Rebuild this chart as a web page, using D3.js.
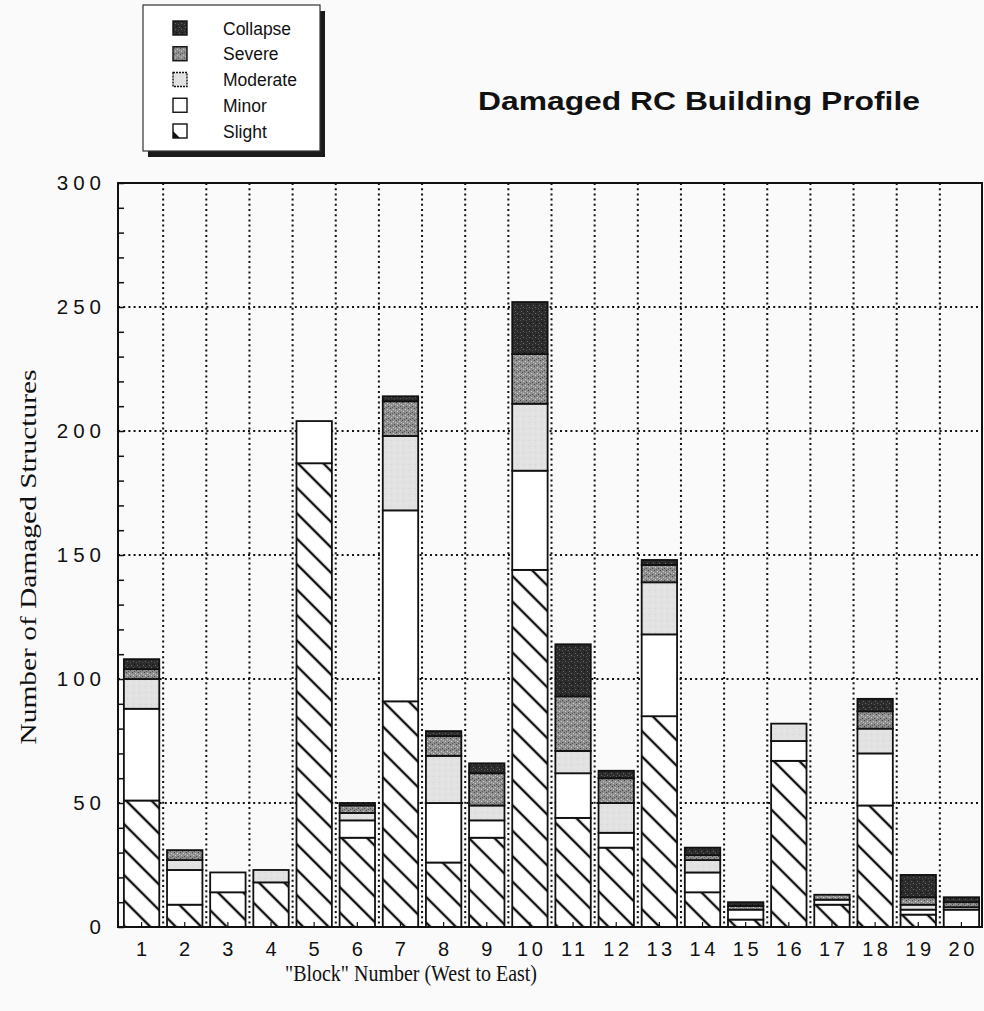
<!DOCTYPE html>
<html>
<head>
<meta charset="utf-8">
<script src="https://cdn.jsdelivr.net/npm/d3@7"></script>
<style>
    body { margin: 0; background: #fafafa; }
    svg { display: block; }
    .axis-lab { font-family: "Liberation Sans", Arial, sans-serif; font-size: 20px; letter-spacing: 3.5px; fill: #111; }
    .y .axis-lab { font-size: 20.5px; letter-spacing: 5px; }
    .axis-title { font-family: "Liberation Serif", "Times New Roman", serif; fill: #111; }
</style>
</head>
<body>
<div id="chart"></div>
<script>

// block numbers along the x axis
const blocks = ["1", "2", "3", "4", "5", "6", "7", "8", "9", "10",
    "11", "12", "13", "14", "15", "16", "17", "18", "19", "20"];

// damage levels, stacked from bottom to top
const levels = ["Slight", "Minor", "Moderate", "Severe", "Collapse"];

// number of damaged structures per block
const slight   = [51, 9, 14, 18, 187, 36, 91, 26, 36, 144, 44, 32, 85, 14, 3, 67, 9, 49, 5, 0];
const minor    = [37, 14, 8, 0, 17, 7, 77, 24, 7, 40, 18, 6, 33, 8, 4, 8, 2, 21, 2, 7];
const moderate = [12, 4, 0, 5, 0, 3, 30, 19, 6, 27, 9, 12, 21, 5, 0, 7, 0, 10, 2, 1];
const severe   = [4, 4, 0, 0, 0, 3, 14, 8, 13, 20, 22, 10, 7, 2, 1.5, 0, 2, 7, 3, 2];
const collapse = [4, 0, 0, 0, 0, 1, 2, 2, 4, 21, 21, 3, 2, 3, 1.5, 0, 0, 5, 9, 2];

const yTicks = [0, 50, 100, 150, 200, 250, 300];
const legendOrder = ["Collapse", "Severe", "Moderate", "Minor", "Slight"];


/* * * * * * * * * * * * * *
*   class StackedBarVis    *
* * * * * * * * * * * * * */

class StackedBarVis {

    constructor(parentElement, rows) {
        this.parentElement = parentElement;
        this.rows = rows;
        this.series = [];

        this.initVis()
    }

    initVis() {
        let vis = this;

        vis.width = 984;
        vis.height = 1011;
        vis.plot = {left: 118, top: 183, right: 982, bottom: 927};

        vis.svg = d3.select("#" + vis.parentElement).append("svg")
            .attr("width", vis.width)
            .attr("height", vis.height);

        vis.makePatterns();

        // -- The Scales
        vis.x = d3.scaleBand()
            .domain(blocks)
            .range([120, 983])
            .paddingInner(0.18)
            .paddingOuter(0.09);

        vis.y = d3.scaleLinear()
            .domain([0, 300])
            .range([vis.plot.bottom, vis.plot.top]);

        // dotted grid, under the bars
        let grid = vis.svg.append("g").attr("class", "grid")
            .attr("stroke", "#111")
            .attr("stroke-width", 2)
            .attr("stroke-dasharray", "2,3.2");

        grid.selectAll(".hgrid")
            .data(yTicks.filter(d => d > 0 && d < 300))
            .enter().append("line")
            .attr("class", "hgrid")
            .attr("x1", vis.plot.left).attr("x2", vis.plot.right)
            .attr("y1", d => vis.y(d)).attr("y2", d => vis.y(d));

        let step = vis.x.step();
        grid.selectAll(".vgrid")
            .data(blocks.slice(1))
            .enter().append("line")
            .attr("class", "vgrid")
            .attr("x1", d => vis.x(d) - (step - vis.x.bandwidth()) / 2)
            .attr("x2", d => vis.x(d) - (step - vis.x.bandwidth()) / 2)
            .attr("y1", vis.plot.top).attr("y2", vis.plot.bottom);

        vis.barGroup = vis.svg.append("g").attr("class", "bar-group");

        // frame
        vis.svg.append("rect")
            .attr("x", vis.plot.left).attr("y", vis.plot.top)
            .attr("width", vis.plot.right - vis.plot.left)
            .attr("height", vis.plot.bottom - vis.plot.top)
            .attr("fill", "none")
            .attr("stroke", "#111")
            .attr("stroke-width", 2);

        // -- The AXIS
        vis.yAxis = d3.axisLeft(vis.y)
            .tickValues(yTicks)
            .tickSize(0)
            .tickPadding(12);

        let yAxisG = vis.svg.append("g")
            .attr("class", "y axis")
            .attr("transform", `translate(${vis.plot.left}, 0)`)
            .call(vis.yAxis);
        yAxisG.select(".domain").remove();
        yAxisG.selectAll("text").attr("class", "axis-lab").attr("fill", null);

        // small ticks every 10 on the inside of the left edge
        let minorAxis = vis.svg.append("g")
            .attr("transform", `translate(${vis.plot.left}, 0)`)
            .call(d3.axisRight(vis.y).ticks(30).tickSize(6).tickFormat(""));
        minorAxis.select(".domain").remove();
        minorAxis.selectAll("line").attr("stroke", "#111").attr("stroke-width", 1.5);

        vis.xAxis = d3.axisBottom(vis.x)
            .tickSize(-5)
            .tickPadding(15);

        let xAxisG = vis.svg.append("g")
            .attr("class", "x axis")
            .attr("transform", `translate(0, ${vis.plot.bottom})`)
            .call(vis.xAxis);
        xAxisG.select(".domain").remove();
        xAxisG.selectAll("line").attr("stroke", "#111").attr("stroke-width", 1.2);
        xAxisG.selectAll("text").attr("class", "axis-lab").attr("fill", null)
            .attr("dx", "1.7px");

        // axis titles
        vis.svg.append("text")
            .attr("class", "axis-title")
            .attr("transform", `translate(36, 557) rotate(-90)`)
            .attr("text-anchor", "middle")
            .attr("font-size", 24)
            .attr("textLength", 375)
            .attr("lengthAdjust", "spacingAndGlyphs")
            .text("Number of Damaged Structures");

        vis.svg.append("text")
            .attr("class", "axis-title")
            .attr("x", 411).attr("y", 981)
            .attr("text-anchor", "middle")
            .attr("font-size", 23)
            .attr("textLength", 252)
            .attr("lengthAdjust", "spacingAndGlyphs")
            .text("\"Block\" Number (West to East)");

        // chart title
        vis.svg.append("text")
            .attr("x", 478).attr("y", 110)
            .attr("font-family", "'Liberation Sans', Arial, sans-serif")
            .attr("font-weight", "bold")
            .attr("font-size", 25)
            .attr("textLength", 442)
            .attr("lengthAdjust", "spacingAndGlyphs")
            .attr("fill", "#111")
            .text("Damaged RC Building Profile");

        vis.drawLegend();

        this.wrangleData();
    }

    makePatterns() {
        let vis = this;
        let defs = vis.svg.append("defs");

        // slight: diagonal hatch
        let hatch = defs.append("pattern")
            .attr("id", "fill-Slight")
            .attr("patternUnits", "userSpaceOnUse")
            .attr("width", 18).attr("height", 18)
            .attr("patternTransform", "rotate(45)");
        hatch.append("rect").attr("width", 18).attr("height", 18).attr("fill", "#fff");
        hatch.append("line")
            .attr("x1", 0).attr("x2", 18).attr("y1", 9).attr("y2", 9)
            .attr("stroke", "#111").attr("stroke-width", 2.4);

        // stipple fills
        let stipple = (id, base, dots) => {
            let p = defs.append("pattern")
                .attr("id", id)
                .attr("patternUnits", "userSpaceOnUse")
                .attr("width", 6).attr("height", 6);
            p.append("rect").attr("width", 6).attr("height", 6).attr("fill", base);
            dots.forEach(d => {
                p.append("rect").attr("x", d[0]).attr("y", d[1])
                    .attr("width", 1).attr("height", 1).attr("fill", d[2]);
            });
        };
        stipple("fill-Collapse", "#2c2c2c",
            [[1, 1, "#6a6a6a"], [4, 2, "#555"], [2, 4, "#111"], [5, 5, "#666"]]);
        stipple("fill-Severe", "#8e8e8e",
            [[0, 0, "#444"], [3, 1, "#cfcfcf"], [1, 3, "#cfcfcf"], [4, 4, "#4a4a4a"], [2, 5, "#5a5a5a"], [5, 2, "#bbb"]]);
        stipple("fill-Moderate", "#e2e2e2",
            [[1, 2, "#d0d0d0"], [4, 5, "#ececec"]]);

        let minorP = defs.append("pattern")
            .attr("id", "fill-Minor")
            .attr("patternUnits", "userSpaceOnUse")
            .attr("width", 6).attr("height", 6);
        minorP.append("rect").attr("width", 6).attr("height", 6).attr("fill", "#fff");
    }

    drawLegend() {
        let vis = this;

        let lg = vis.svg.append("g").attr("class", "legend");

        // drop shadow then box
        lg.append("rect")
            .attr("x", 148).attr("y", 11).attr("width", 177).attr("height", 146)
            .attr("fill", "#1a1a1a");
        lg.append("rect")
            .attr("x", 143).attr("y", 5).attr("width", 177).attr("height", 146)
            .attr("fill", "#fff")
            .attr("stroke", "#333").attr("stroke-width", 1.2);

        let rowY = d3.scalePoint().domain(legendOrder).range([28, 131]);

        let items = lg.selectAll(".legend-item")
            .data(legendOrder)
            .enter().append("g")
            .attr("class", "legend-item")
            .attr("transform", d => `translate(0, ${rowY(d)})`);

        items.append("rect")
            .attr("x", 173).attr("y", -7)
            .attr("width", 14).attr("height", 14)
            .attr("fill", d => d === "Slight" ? "#fff" : `url(#fill-${d})`)
            .attr("stroke", "#111")
            .attr("stroke-width", 1.4)
            .attr("stroke-dasharray", d => d === "Moderate" ? "2,1" : null);

        items.filter(d => d === "Slight").append("path")
            .attr("d", "M173,0 L180,7 L173,7 Z")
            .attr("fill", "#111");

        items.append("text")
            .attr("x", 223).attr("y", 6.5)
            .attr("font-family", "'Liberation Sans', Arial, sans-serif")
            .attr("font-size", 17.5)
            .attr("fill", "#111")
            .text(d => d);
    }

    wrangleData() {
        let vis = this;

        vis.series = d3.stack().keys(levels)(vis.rows);

        vis.updateVis()
    }

    updateVis() {
        let vis = this;

        let layers = vis.barGroup.selectAll(".layer")
            .data(vis.series)
            .enter().append("g")
            .attr("class", d => `layer ${d.key}`)
            .attr("fill", d => `url(#fill-${d.key})`);

        layers.selectAll("rect")
            .data(d => d.filter(s => s[1] > s[0]))
            .enter().append("rect")
            .attr("x", d => vis.x(d.data.block))
            .attr("y", d => vis.y(d[1]))
            .attr("width", vis.x.bandwidth())
            .attr("height", d => vis.y(d[0]) - vis.y(d[1]))
            .attr("stroke", "#111")
            .attr("stroke-width", 1.8);
    }
}

// rows for the stack, built from the arrays above
let rows = blocks.map((b, i) => ({
    block: b,
    Slight: slight[i],
    Minor: minor[i],
    Moderate: moderate[i],
    Severe: severe[i],
    Collapse: collapse[i]
}));

let chart = new StackedBarVis("chart", rows);

</script>
</body>
</html>
